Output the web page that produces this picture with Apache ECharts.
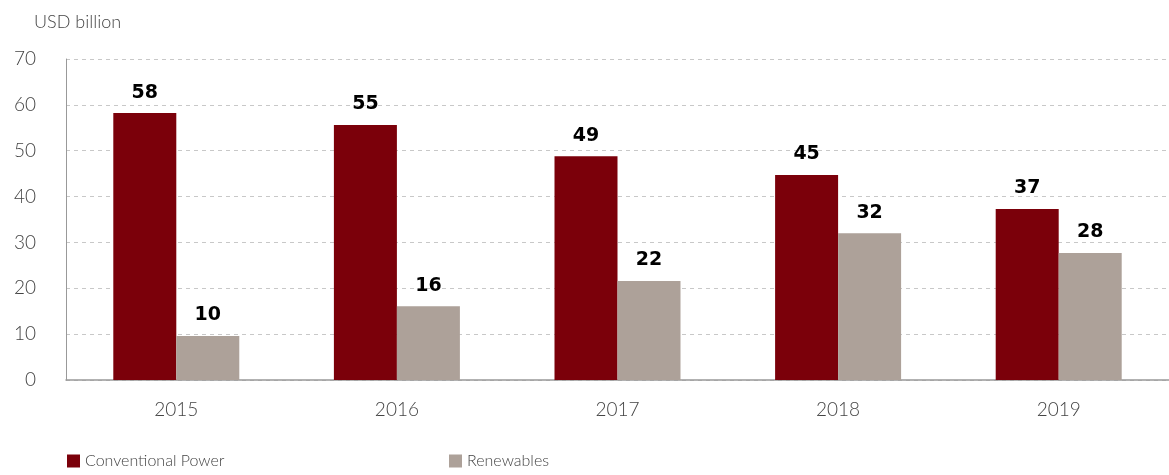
<!DOCTYPE html>
<html><head><meta charset="utf-8">
<script src="https://cdn.jsdelivr.net/npm/echarts@6/dist/echarts.min.js"></script>
<style>html,body{margin:0;padding:0;background:#fff}#c{width:1169px;height:475px}</style>
</head><body><div id="c"></div>
<script>
const categories = ['2015','2016','2017','2018','2019'];
const conventional = [58.2, 55.6, 48.8, 44.7, 37.3];
const renewables = [9.6, 16.1, 21.6, 32.0, 27.7];
const conventionalLabels = [58, 55, 49, 45, 37];
const renewablesLabels = [10, 16, 22, 32, 28];
const seriesNames = ['Conventional Power', 'Renewables'];
const yTicks = [0, 10, 20, 30, 40, 50, 60, 70];

const font = 'Lato, "Open Sans", sans-serif';
const chart = echarts.init(document.getElementById('c'));
const lbl = (arr) => ({
  show: true, position: 'top', distance: 11,
  fontFamily: '"DejaVu Sans", sans-serif', fontWeight: 'bold', fontSize: 19, color: '#000',
  formatter: p => arr[p.dataIndex]
});
const legendText = { fontFamily: font, fontSize: 16, color: '#444', fontWeight: 300 };
chart.setOption({
  animation: false,
  grid: { left: 66, right: 0, top: 59, bottom: 95 },
  legend: [
    { data: [seriesNames[0]], left: 67, top: 453, padding: 0, itemWidth: 13, itemHeight: 13, itemGap: 6,
      textStyle: legendText, icon: 'rect' },
    { data: [seriesNames[1]], left: 449, top: 453, padding: 0, itemWidth: 13, itemHeight: 13,
      textStyle: legendText, icon: 'rect' }
  ],
  xAxis: {
    type: 'category', data: categories,
    axisLine: { lineStyle: { color: '#999', width: 1.5 } },
    axisTick: { show: false },
    axisLabel: { fontFamily: font, fontSize: 19, color: '#444', margin: 20, fontWeight: 300 }
  },
  yAxis: {
    type: 'value', min: yTicks[0], max: yTicks[yTicks.length - 1], interval: 10,
    name: 'USD billion', nameLocation: 'end', nameGap: 28,
    nameTextStyle: { fontFamily: font, fontSize: 18, color: '#444', align: 'left', padding: [0, 0, 0, -32], fontWeight: 300 },
    axisLine: { show: true, lineStyle: { color: '#999', width: 1 } },
    axisTick: { show: false },
    axisLabel: { fontFamily: font, fontSize: 19, color: '#444', margin: 30, fontWeight: 300 },
    splitLine: { lineStyle: { color: '#c8c8c8', type: [4, 4] } }
  },
  series: [
    { name: seriesNames[0], type: 'bar', data: conventional, barWidth: 63, barGap: '0%',
      itemStyle: { color: '#7b000a' }, label: lbl(conventionalLabels) },
    { name: seriesNames[1], type: 'bar', data: renewables, barWidth: 63,
      itemStyle: { color: '#ada199' }, label: lbl(renewablesLabels) }
  ]
});
</script></body></html>
